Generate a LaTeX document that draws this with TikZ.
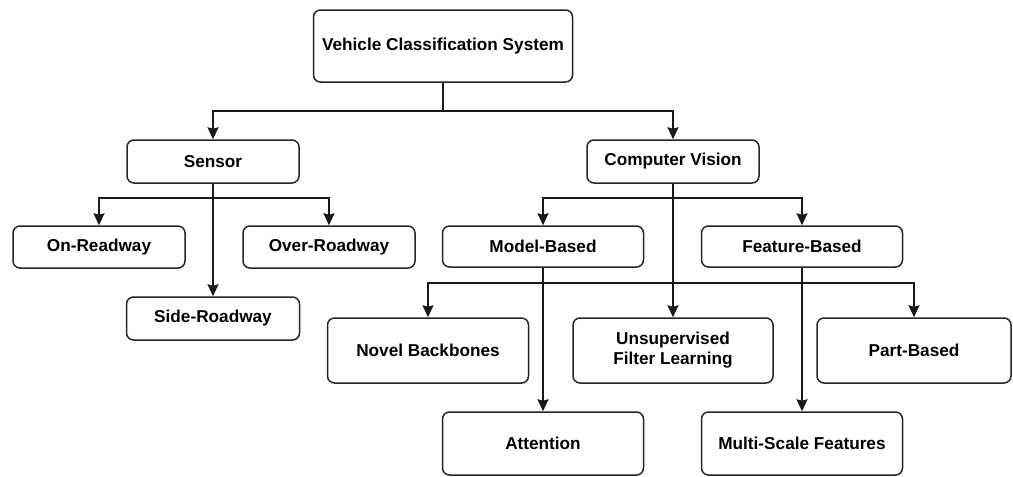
\documentclass[tikz,border=0pt]{standalone}
\usepackage{fontspec}
\setmainfont{Liberation Sans}
\usetikzlibrary{arrows.meta,calc}
\begin{document}
\begin{tikzpicture}[x=1pt,y=-1pt,
  box/.style={draw=black!85, line width=1.5pt, rounded corners=7pt, fill=white,
    font=\bfseries\fontsize{17.2}{20}\selectfont, align=center, inner sep=0pt},
  link/.style={draw=black!90, line width=1.6pt},
  arr/.style={link, -{Stealth[length=12pt,width=11pt,inset=1.5pt]}}]
\useasboundingbox (0,0) rectangle (1013,477);

% boxes
\node[box, minimum width=259pt, minimum height=72pt] (vcs) at (443,46) {Vehicle Classification System};
\node[box, minimum width=172pt, minimum height=43pt] (sensor) at (213,161.5) {Sensor};
\node[box, minimum width=172pt, minimum height=43pt] (cv) at (673,161.5) {Computer Vision};
\node[box, minimum width=172pt, minimum height=42pt] (onr) at (99,247) {On-Readway};
\node[box, minimum width=172pt, minimum height=42pt] (overr) at (329,247) {Over-Roadway};
\node[box, minimum width=173pt, minimum height=43pt] (sider) at (213,318.5) {Side-Roadway};
\node[box, minimum width=201pt, minimum height=41pt] (model) at (543,246.5) {Model-Based};
\node[box, minimum width=201pt, minimum height=41pt] (feat) at (802,246.5) {Feature-Based};
\node[box, minimum width=201pt, minimum height=65pt] (novel) at (428,350.5) {Novel Backbones};
\node[box, minimum width=200pt, minimum height=65pt] (unsup) at (673,350.5) {Unsupervised\\Filter Learning};
\node[box, minimum width=194pt, minimum height=65pt] (part) at (914,350.5) {Part-Based};
\node[box, minimum width=201pt, minimum height=63pt] (att) at (543,443.5) {Attention};
\node[box, minimum width=201pt, minimum height=63pt] (multi) at (802,443.5) {Multi-Scale Features};

% top level
\draw[arr] (vcs.south) -- ++(0,28) -| (sensor.north);
\draw[arr] (vcs.south) -- ++(0,28) -| (cv.north);

% sensor branch
\draw[arr] (sensor.south) -- ++(0,14) -| (onr.north);
\draw[arr] (sensor.south) -- ++(0,14) -| (overr.north);
\draw[arr] (sensor.south) -- (sider.north);

% computer vision branch
\draw[arr] (cv.south) -- ++(0,14) -| (model.north);
\draw[arr] (cv.south) -- ++(0,14) -| (feat.north);
\draw[arr] (cv.south) -- (unsup.north);

% method families
\coordinate (mj) at ($(model.south)+(0,15)$);
\coordinate (fj) at ($(feat.south)+(0,15)$);
\draw[link] (mj) -- (fj);
\draw[arr] (model.south) -- (mj) -| (novel.north);
\draw[arr] (model.south) -- (att.north);
\draw[arr] (feat.south) -- (fj) -| (part.north);
\draw[arr] (feat.south) -- (multi.north);
\end{tikzpicture}
\end{document}
